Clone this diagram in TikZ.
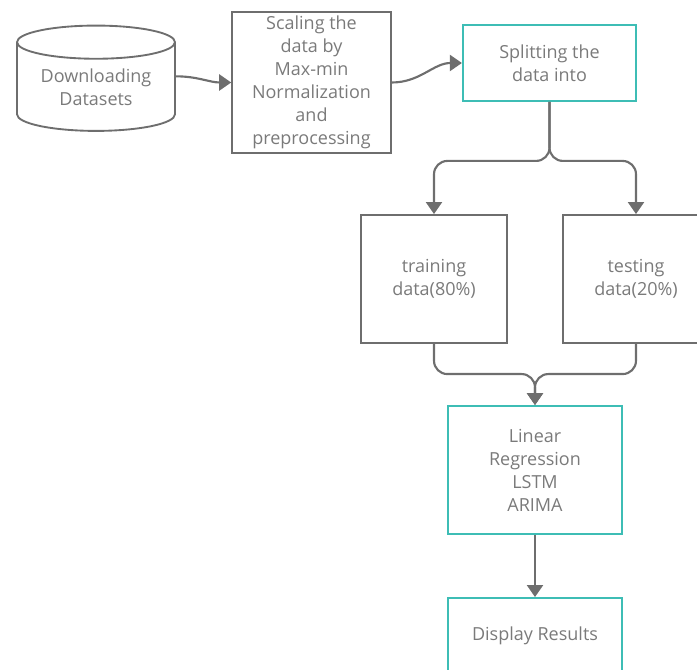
\documentclass[tikz,border=0pt]{standalone}
\usepackage{fontspec}
\setmainfont{Open Sans}
\usepackage{tikz}
\usetikzlibrary{shapes.geometric,arrows.meta}
\definecolor{linegray}{HTML}{6E6E6E}
\definecolor{textgray}{HTML}{7A7A7A}
\definecolor{tealline}{HTML}{3DBDB5}

\begin{document}
\begin{tikzpicture}[x=0.75pt, y=-0.75pt, thick,
		>={Triangle[width=12pt,length=9pt]},
		main node/.style={rectangle,draw=linegray,line width=1.4pt,inner sep=0pt,align=center,
			text=textgray,font=\fontsize{13.5}{17.25}\selectfont},
		teal node/.style={main node,draw=tealline},
		data node/.style={main node,cylinder,shape border rotate=90,aspect=0.3},
		flow/.style={->,color=linegray,line width=1.6pt}]
		
		\useasboundingbox (0,0) rectangle (697,670);
		
		\node[data node, minimum width=118.5pt, minimum height=79pt] (data) at (96,87) {Downloading\\Datasets};
		\node[main node, minimum width=119pt, minimum height=106pt] (scale) at (311.5,82.5) {Scaling the\\data by\\Max-min\\Normalization\\and\\preprocessing};
		\node[teal node, minimum width=130pt, minimum height=57pt] (split) at (549.5,63) {Splitting the\\data into};
		\node[main node, minimum width=109.5pt, minimum height=96pt] (train) at (434,279) {training\\data(80\%)};
		\node[main node, minimum width=109.5pt, minimum height=96pt] (test) [right of=train, node distance=151.5pt] {testing\\data(20\%)};
		\node[teal node, minimum width=130.5pt, minimum height=96pt] (model) at (535,470) {Linear\\Regression\\LSTM\\ARIMA};
		\node[teal node, minimum width=130.5pt, minimum height=57pt] (result) [below of=model, node distance=124.5pt] {Display Results};
		
		\path ([yshift=8pt]data.east) coordinate (out);
		\path (split.south) ++(0,59) coordinate (fork);
		\path (model.north) ++(0,-31) coordinate (join);
		
		\path[flow]
		(out) edge [out=0,in=180] (scale)
		(scale) edge [out=0,in=180] (split)
		(model) edge (result);
		
		\draw[flow,rounded corners=10pt] (split.south) -- (fork) -| (train.north);
		\draw[flow,rounded corners=10pt] (split.south) -- (fork) -| (test.north);
		\draw[flow,rounded corners=10pt] (train.south) |- (join) -- (model.north);
		\draw[flow,rounded corners=10pt] (test.south) |- (join) -- (model.north);
		\end{tikzpicture}
\end{document}
